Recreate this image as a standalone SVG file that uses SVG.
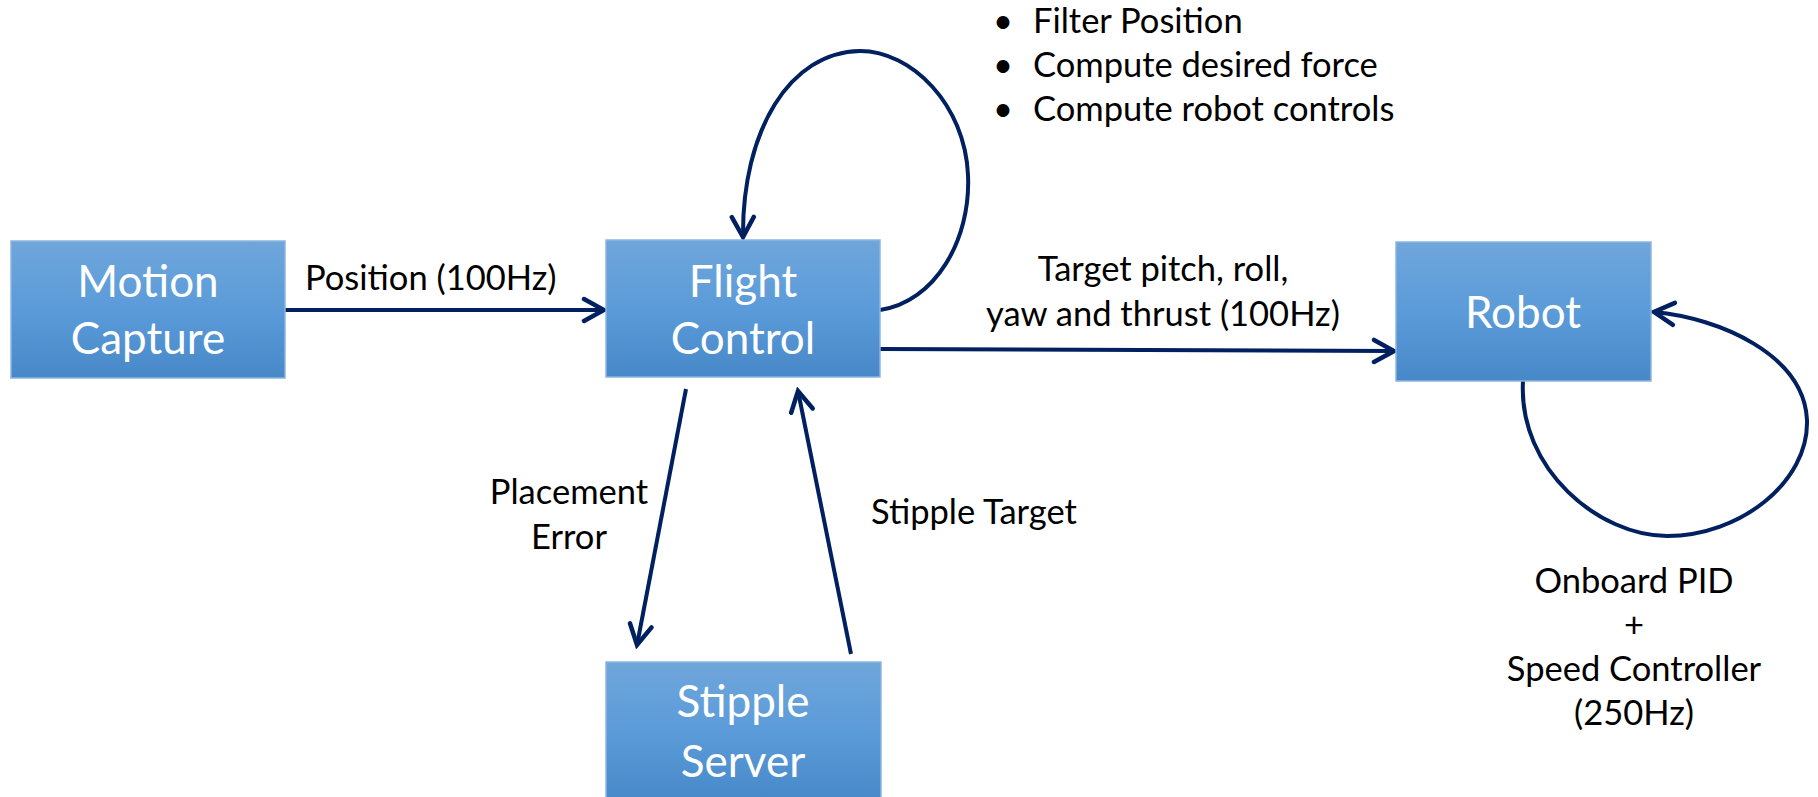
<svg xmlns="http://www.w3.org/2000/svg" width="1818" height="797" viewBox="0 0 1818 797">
<style>
.box{fill:url(#bg);stroke:#8db5df;stroke-width:1.5}
.bt{font-family:Lato,"Open Sans",sans-serif;font-size:44px;fill:#ffffff;text-anchor:middle}
.lb{font-family:Lato,"Open Sans",sans-serif;font-size:34.5px;fill:#000000}
.c{text-anchor:middle}
.cn{fill:none;stroke:#002060;stroke-width:4}
</style>
<defs>
<linearGradient id="bg" x1="0" y1="0" x2="0" y2="1">
<stop offset="0" stop-color="#6fa6db"/>
<stop offset="0.5" stop-color="#5b9bd9"/>
<stop offset="1" stop-color="#4788c8"/>
</linearGradient>
<marker id="ah" markerUnits="userSpaceOnUse" viewBox="-26 -16 30 32" markerWidth="30" markerHeight="32" refX="0" refY="0" orient="auto">
<path d="M-20,-11 L0,0 L-20,11" fill="none" stroke="#002060" stroke-width="4.5" stroke-linecap="round" stroke-linejoin="miter"/>
</marker>
</defs>
<g id="connectors">
<path class="cn" d="M285,310 L604,310" marker-end="url(#ah)"/>
<path class="cn" d="M880,349 L1394,351" marker-end="url(#ah)"/>
<path class="cn" d="M686,389 L637,645" marker-end="url(#ah)"/>
<path class="cn" d="M851,654 L798,391" marker-end="url(#ah)"/>
<path class="cn" d="M880,310 C935,302 971,240 968,175 C965,105 912,51 860,51 C790,52 742,130 743,237" marker-end="url(#ah)"/>
<path class="cn" d="M1523,381 C1518,470 1600,536 1667,536 C1740,536 1809,482 1807,420 C1804,355 1720,318 1654,312" marker-end="url(#ah)"/>
</g>
<g id="motion-capture">
<rect class="box" x="11" y="241" width="274" height="137"/>
<text class="bt" x="148" y="297">Motion</text>
<text class="bt" x="148" y="354">Capture</text>
</g>
<g id="flight-control">
<rect class="box" x="606" y="240" width="274" height="137"/>
<text class="bt" x="743" y="297">Flight</text>
<text class="bt" x="743" y="354">Control</text>
</g>
<g id="robot">
<rect class="box" x="1396" y="242" width="255" height="139"/>
<text class="bt" x="1523" y="328">Robot</text>
</g>
<g id="stipple-server">
<rect class="box" x="606" y="662" width="275" height="140"/>
<text class="bt" x="743" y="717">Stipple</text>
<text class="bt" x="743" y="777">Server</text>
</g>
<g id="labels">
<text class="lb" x="305" y="290">Position (100Hz)</text>
<text class="lb c" x="1163" y="281">Target pitch, roll,</text>
<text class="lb c" x="1163" y="326">yaw and thrust (100Hz)</text>
<text class="lb c" x="569" y="504">Placement</text>
<text class="lb c" x="569" y="549">Error</text>
<text class="lb" x="871" y="524">Stipple Target</text>
<text class="lb c" x="1003" y="33">•</text>
<text class="lb" x="1033" y="33">Filter Position</text>
<text class="lb c" x="1003" y="77">•</text>
<text class="lb" x="1033" y="77">Compute desired force</text>
<text class="lb c" x="1003" y="121">•</text>
<text class="lb" x="1033" y="121">Compute robot controls</text>
<text class="lb c" x="1634" y="593">Onboard PID</text>
<text class="lb c" x="1634" y="637">+</text>
<text class="lb c" x="1634" y="681">Speed Controller</text>
<text class="lb c" x="1634" y="725">(250Hz)</text>
</g>
</svg>
